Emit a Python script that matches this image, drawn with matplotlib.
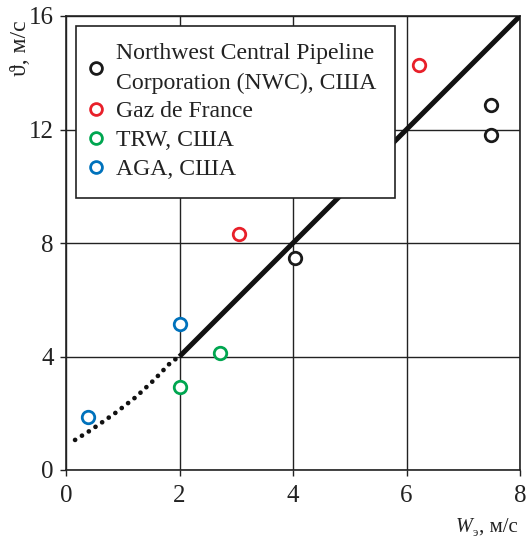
import matplotlib
matplotlib.use("Agg")
import matplotlib.pyplot as plt
from matplotlib.lines import Line2D

plt.rcParams['font.family'] = ['Liberation Serif', 'DejaVu Serif']

# data
nwc_x = [4.03, 7.49, 7.49]
nwc_y = [7.47, 12.86, 11.8]
gdf_x = [3.05, 6.22]
gdf_y = [8.32, 14.27]
trw_x = [2.71, 2.0]
trw_y = [4.12, 2.93]
aga_x = [2.0, 0.39]
aga_y = [5.15, 1.87]
line_x = [2.0, 8.0]
line_y = [4.0, 16.0]
dot_x = [0.16, 0.41, 0.65, 0.89, 1.23, 1.55, 1.85, 2.0]
dot_y = [1.06, 1.37, 1.70, 2.04, 2.57, 3.17, 3.80, 4.0]

labels = ["Northwest Central Pipeline\nCorporation (NWC), США",
          "Gaz de France", "TRW, США", "AGA, США"]
colors = ['#1a1a1a', '#e8202a', '#00a650', '#0072bc']

fig = plt.figure(figsize=(5.28, 5.37), dpi=100)
ax = fig.add_axes([66/528, 1-470/537, 454/528, 454/537])

ax.plot(line_x, line_y, color='#111111', lw=3.6, solid_capstyle='butt', zorder=3)
ax.plot(dot_x, dot_y, color='#111111', lw=3.4, linestyle=(0, (0.01, 1.7)),
        dash_capstyle='round', zorder=3)

for xs, ys, c in zip([nwc_x, gdf_x, trw_x, aga_x], [nwc_y, gdf_y, trw_y, aga_y], colors):
    ax.plot(xs, ys, 'o', ms=9, mfc='white', mec=c, mew=2, ls='none', zorder=4)

ax.set_xlim(0, 8)
ax.set_ylim(0, 16)
ax.set_xticks([0, 2, 4, 6, 8])
ax.set_yticks([0, 4, 8, 12, 16])
ax.grid(True, color='#222222', lw=1.0)
ax.set_axisbelow(True)
for s in ax.spines.values():
    s.set_linewidth(1.2)
    s.set_color('#222222')
ax.tick_params(labelsize=18, length=4, width=1, color='#222222', labelcolor='#222222', pad=5)
ax.tick_params(axis='x', pad=7)

handles = [Line2D([], [], marker='o', ls='none', ms=8.5, mfc='white', mec=c, mew=2) for c in colors]
leg = ax.legend(handles, labels, loc='upper left', bbox_to_anchor=(0.022, 0.979),
                borderaxespad=0, fontsize=17.1, frameon=True, fancybox=False,
                edgecolor='#222222', framealpha=1, handletextpad=0.75, handlelength=0.2,
                labelspacing=0.3, borderpad=0.75)
leg.get_frame().set_linewidth(1.2)
leg.set_zorder(5)
for t in leg.get_texts():
    t.set_color('#222222')
    t.set_linespacing(1.5)

fig.text(21/528, 1-48/537, "ϑ, м/с", rotation=90, fontsize=17, ha='center', va='center', color='#222222')
fig.text(456/528, 1-532/537, "W", fontsize=14.5, style='italic', ha='left', va='baseline', color='#222222')
fig.text(473/528, 1-535.5/537, "э", fontsize=9, ha='left', va='baseline', color='#222222')
fig.text(479/528, 1-532/537, ", м/с", fontsize=15, ha='left', va='baseline', color='#222222')

fig.savefig("out.png", dpi=100)
